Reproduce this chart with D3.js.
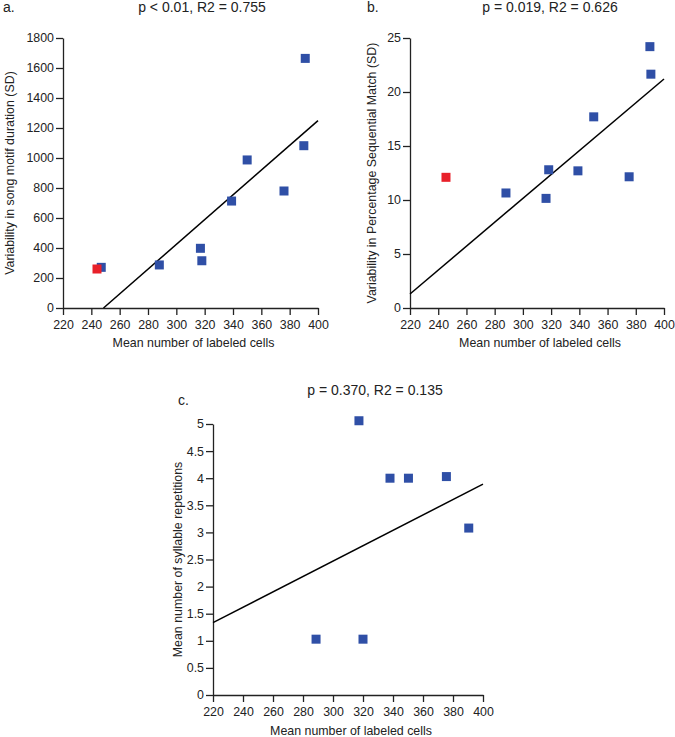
<!DOCTYPE html>
<html>
<head>
<meta charset="utf-8">
<script src="https://cdn.jsdelivr.net/npm/d3@7"></script>
<style>
  body { margin: 0; background: #fff; }
  svg { display: block; font-family: "Liberation Sans", Arial, sans-serif; }
  .tick text { font-size: 12.4px; fill: #222; }
  .domain, .tick line { stroke: #222; stroke-width: 1.3; }
</style>
</head>
<body>
<svg id="chart" width="675" height="737"></svg>
<script>
// x values (mean number of labeled cells) and y values per panel
const xA = [247, 288, 317, 318, 339, 350, 376, 390, 391, 244];
const yA = [271, 287, 398, 315, 713, 987, 780, 1082, 1664, 260];
const redA = [false, false, false, false, false, false, false, false, false, true];
const fitA = [[248.6, 0], [400, 1249]];

const xB = [288, 316.4, 318.3, 339, 375.3, 350.2, 390, 390.7, 245.5];
const yB = [10.65, 10.15, 12.8, 12.7, 12.15, 17.7, 24.2, 21.65, 12.1];
const redB = [false, false, false, false, false, false, false, false, true];
const fitB = [[220, 1.3], [400, 21.2]];

const xC = [317.3, 338, 350.3, 375.6, 390.5, 288.7, 320];
const yC = [5.06, 4.0, 4.0, 4.03, 3.08, 1.03, 1.03];
const redC = [false, false, false, false, false, false, false];
const fitC = [[220, 1.335], [400, 3.89]];

const xTicks = [220, 240, 260, 280, 300, 320, 340, 360, 380, 400];
const yTicksA = [0, 200, 400, 600, 800, 1000, 1200, 1400, 1600, 1800];
const yTicksB = [0, 5, 10, 15, 20, 25];
const yTicksC = [0, 0.5, 1, 1.5, 2, 2.5, 3, 3.5, 4, 4.5, 5];

const blue = "#2f4fa6";
const red = "#e8202a";
const svg = d3.select("#chart");

const panels = [
  { letter: "a.", lx: 3, ly: 12, title: "p < 0.01, R2 = 0.755", tx: 202, ty: 12,
    box: [63, 318, 38, 308], ymax: 1800, yt: yTicksA,
    xs: xA, ys: yA, reds: redA, fit: fitA,
    ylabel: "Variability in song motif duration (SD)", ylx: 14, xly: 347 },
  { letter: "b.", lx: 367, ly: 12, title: "p = 0.019, R2 = 0.626", tx: 550, ty: 12,
    box: [410, 664, 38, 308], ymax: 25, yt: yTicksB,
    xs: xB, ys: yB, reds: redB, fit: fitB,
    ylabel: "Variability in Percentage Sequential Match (SD)", ylx: 376, xly: 347 },
  { letter: "c.", lx: 178, ly: 405, title: "p = 0.370, R2 = 0.135", tx: 375, ty: 395,
    box: [213, 483, 424, 695], ymax: 5, yt: yTicksC,
    xs: xC, ys: yC, reds: redC, fit: fitC,
    ylabel: "Mean number of syllable repetitions", ylx: 182, xly: 735 }
];

panels.forEach(drawPanel);

function drawPanel(p) {
  const [x0, x1, y0, y1] = p.box;
  const x = d3.scaleLinear().domain([220, 400]).range([x0, x1]);
  const y = d3.scaleLinear().domain([0, p.ymax]).range([y1, y0]);
  const g = svg.append("g");

  g.append("g")
    .attr("transform", `translate(0,${y1})`)
    .call(d3.axisBottom(x).tickValues(xTicks).tickSize(7).tickSizeOuter(0).tickPadding(5));

  g.append("g")
    .attr("transform", `translate(${x0},0)`)
    .call(d3.axisLeft(y).tickValues(p.yt).tickFormat(d => d).tickSize(7).tickSizeOuter(0).tickPadding(2));

  // regression line
  g.append("line")
    .attr("x1", x(p.fit[0][0])).attr("y1", y(p.fit[0][1]))
    .attr("x2", x(p.fit[1][0])).attr("y2", y(p.fit[1][1]))
    .attr("stroke", "#000").attr("stroke-width", 1.5);

  // red point listed last so it sits on top, as in the figure
  const pts = p.xs.map((v, i) => ({ x: v, y: p.ys[i], red: p.reds[i] }));
  g.selectAll("rect.pt")
    .data(pts)
    .enter()
    .append("rect")
    .attr("class", "pt")
    .attr("x", d => x(d.x) - 4.5)
    .attr("y", d => y(d.y) - 4.5)
    .attr("width", 9)
    .attr("height", 9)
    .attr("fill", d => d.red ? red : blue);

  g.append("text").attr("x", p.lx).attr("y", p.ly)
    .attr("font-size", 14).attr("fill", "#222").text(p.letter);

  g.append("text").attr("x", p.tx).attr("y", p.ty)
    .attr("text-anchor", "middle").attr("font-size", 14).attr("fill", "#222").text(p.title);

  g.append("text").attr("x", (x0 + x1) / 2 + 3).attr("y", p.xly)
    .attr("text-anchor", "middle").attr("font-size", 12.4).attr("fill", "#222")
    .text("Mean number of labeled cells");

  g.append("text")
    .attr("transform", `translate(${p.ylx},${(y0 + y1) / 2}) rotate(-90)`)
    .attr("text-anchor", "middle").attr("font-size", 12.4).attr("fill", "#222")
    .text(p.ylabel);
}
</script>
</body>
</html>
